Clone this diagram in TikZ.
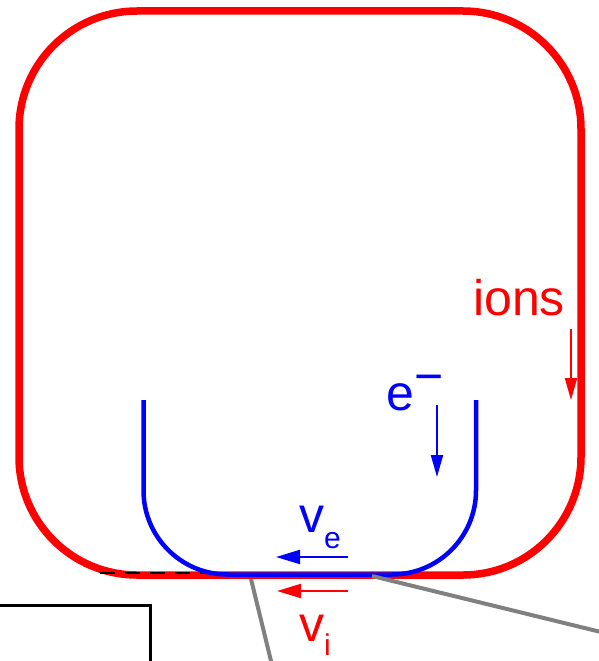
\documentclass[tikz,border=0pt]{standalone}
\usepackage{fontspec}
\setmainfont{Liberation Sans}
\usetikzlibrary{arrows.meta}
\newcommand{\subsz}{\fontsize{30}{36}\selectfont}

\begin{document}
\begin{tikzpicture}[x=1pt, y=-1pt,
        wall/.style={red, line width=7.5pt, rounded corners=118pt},
        sheath/.style={blue, line width=4.5pt, rounded corners=84pt},
        zoomline/.style={gray, line width=4pt},
        lbl/.style={inner sep=0pt, anchor=base west, font=\fontsize{50}{60}\selectfont},
        arr/.style={line width=2.2pt, -{Triangle[length=22pt, width=12pt]}},
        harr/.style={line width=2.2pt, -{Triangle[length=24pt, width=14pt]}}
    ]
        \useasboundingbox (0,0) rectangle (598,661);

        % plasma vessel and sheath
        \draw[wall] (19,11) rectangle (581,575);
        \draw[dashed, dash pattern=on 15pt off 10pt, line width=2pt] (100,573) -- (215,573);
        \draw[sheath] (143.5,400) -- (143.5,574.5) -- (476,574.5) -- (476,400);

        % zoom box and its lines
        \draw[line width=3pt] (-5,605) -- (150,605) -- (150,670);
        \coordinate (zA) at (251,579);
        \coordinate (zB) at (272,665);
        \coordinate (zC) at (372,576);
        \coordinate (zD) at (605,633);
        \draw[zoomline] (zA) -- (zB);
        \draw[zoomline] (zC) -- (zD);

        % labels
        \node[lbl, red] (ions) at (473,315) {ions};
        \node[lbl, blue] (elec) at (386,410) {e\raisebox{17pt}{\fontsize{50}{60}\selectfont −}};
        \node[lbl, blue] (ve) at (299,532) {v\raisebox{-16pt}{\subsz e}};
        \node[lbl, red] (vi) at (299,641) {v\raisebox{-14pt}{\subsz i}};

        % velocity arrows
        \coordinate (ionsS) at (571,329);
        \coordinate (ionsT) at (571,400);
        \coordinate (elecS) at (437,405);
        \coordinate (elecT) at (437,477);
        \coordinate (veS) at (348,557);
        \coordinate (veT) at (276,557);
        \coordinate (viS) at (348,591);
        \coordinate (viT) at (277,591);
        \draw[arr, red] (ionsS) -- (ionsT);
        \draw[arr, blue] (elecS) -- (elecT);
        \draw[harr, blue] (veS) -- (veT);
        \draw[harr, red] (viS) -- (viT);
    \end{tikzpicture}
\end{document}
